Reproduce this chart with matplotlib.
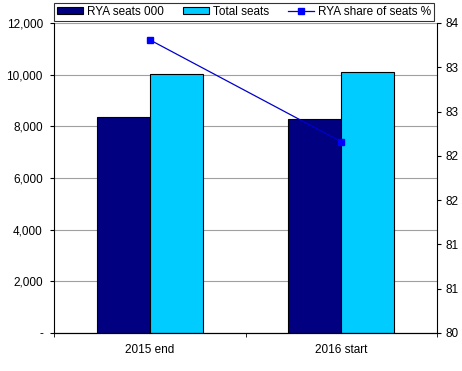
import matplotlib.pyplot as plt
from matplotlib.patches import Patch
from matplotlib.lines import Line2D

plt.rcParams['font.family'] = ['Liberation Sans', 'DejaVu Sans']
plt.rcParams['font.size'] = 8.5

# data
categories = ['2015 end', '2016 start']
rya_seats = [8350, 8280]
total_seats = [10010, 10090]
rya_share = [83.31, 82.16]

left_ticks = [0, 2000, 4000, 6000, 8000, 10000, 12000]
left_labels = ['-', '2,000', '4,000', '6,000', '8,000', '10,000', '12,000']
right_ticks = [80, 80.5, 81, 81.5, 82, 82.5, 83, 83.5]
right_labels = ['80', '81', '81', '82', '82', '83', '83', '84']

fig = plt.figure(figsize=(4.62, 3.71), dpi=100)
ax = fig.add_axes([54 / 462, 1 - 333 / 371, (437 - 54) / 462, (333 - 23) / 371])

x = [0, 1]
w = 0.277
ax.bar([i - w / 2 for i in x], rya_seats, width=w, color='#000080',
       edgecolor='black', linewidth=0.8)
ax.bar([i + w / 2 for i in x], total_seats, width=w, color='#00CCFF',
       edgecolor='black', linewidth=0.8)

ax.set_xlim(-0.5, 1.5)
ax.set_ylim(0, 12000)
ax.set_yticks(left_ticks)
ax.set_yticklabels(left_labels)
ax.set_xticks(x)
ax.set_xticklabels(categories)
ax.set_xticks([-0.5, 0.5, 1.5], minor=True)
ax.tick_params(axis='x', which='major', length=0, pad=8)
ax.tick_params(axis='x', which='minor', length=3, direction='out')
ax.tick_params(axis='y', length=3, direction='out', pad=5)
ax.grid(axis='y', color='#A0A0A0', linewidth=0.8)
ax.set_axisbelow(True)
ax.spines['top'].set_visible(False)
ax.spines['right'].set_visible(False)

ax2 = ax.twinx()
ax2.plot(x, rya_share, color='#0000CC', linewidth=0.9, marker='s',
         markersize=5, markerfacecolor='#0000FF', markeredgecolor='#0000FF')
ax2.set_ylim(80, 83.5)
ax2.set_yticks(right_ticks)
ax2.set_yticklabels(right_labels)
ax2.tick_params(axis='y', length=3, direction='out', pad=3)
ax2.spines['top'].set_visible(False)
ax2.spines['left'].set_visible(False)

handles = [
    Patch(facecolor='#000080', edgecolor='black', linewidth=0.8),
    Patch(facecolor='#00CCFF', edgecolor='black', linewidth=0.8),
    Line2D([], [], color='#0000CC', linewidth=0.9, marker='s', markersize=5,
           markerfacecolor='#0000FF', markeredgecolor='#0000FF'),
]
labels = ['RYA seats 000', 'Total seats', 'RYA share of seats %']
leg = fig.legend(handles, labels, ncol=3, loc='center',
                 bbox_to_anchor=(244 / 462, 1 - 12 / 371), frameon=True,
                 fancybox=False, edgecolor='black', handlelength=2.2,
                 handleheight=0.5, columnspacing=1.6, borderpad=0.25,
                 handletextpad=0.35, borderaxespad=0)
leg.get_frame().set_linewidth(0.8)

fig.savefig('out.png', dpi=100)
